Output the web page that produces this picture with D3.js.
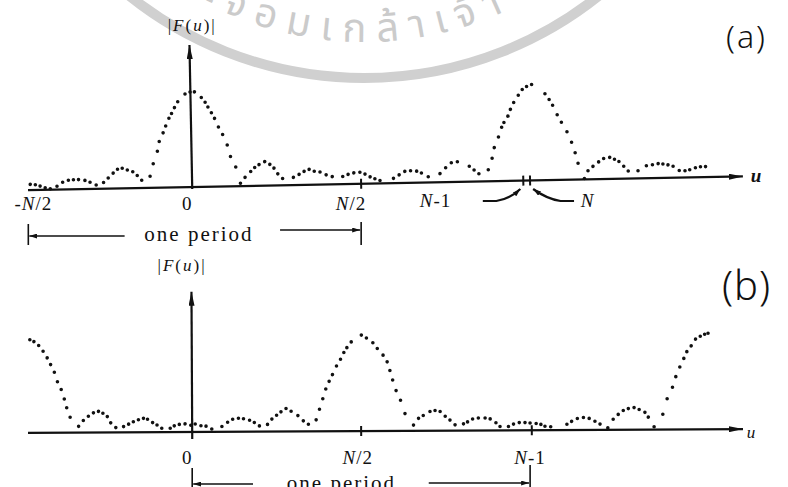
<!DOCTYPE html>
<html>
<head>
<meta charset="utf-8">
<script src="https://cdn.jsdelivr.net/npm/d3@7"></script>
<style>
  body { margin: 0; background: #fff; }
  svg { display: block; }
  text { font-family: "Liberation Serif", serif; fill: #111; }
</style>
</head>
<body>
<div id="chart"></div>
<script>
const width = 788,
      height = 487;

// |F(u)|, u in units of N, magnitude relative to the main lobe
const aU = [-0.479, -0.464, -0.450, -0.435, -0.420, -0.400, -0.383, -0.366, -0.351, -0.336, -0.317, -0.302, -0.284,
  -0.262, -0.248, -0.233, -0.220, -0.206, -0.191, -0.175, -0.162, -0.149,
  -0.124, -0.114, -0.101, -0.095, -0.083, -0.075, -0.065, -0.057, -0.048, -0.038, -0.016, -0.001, 0.012,
  0.032, 0.043, 0.051, 0.061, 0.070, 0.081, 0.093, 0.106, 0.115, 0.130, 0.143,
  0.157, 0.174, 0.186, 0.199, 0.216, 0.231, 0.243, 0.254, 0.268,
  0.300, 0.317, 0.332, 0.347, 0.362, 0.379, 0.397, 0.415,
  0.446, 0.462, 0.479, 0.497, 0.512, 0.527, 0.541, 0.556,
  0.596, 0.613, 0.630, 0.647, 0.665, 0.679, 0.699,
  0.734, 0.751, 0.768, 0.786, 0.821, 0.835, 0.849,
  0.877, 0.889, 0.896, 0.909, 0.919, 0.926, 0.938, 0.946, 0.956, 0.970, 0.982, 0.995, 1.010,
  1.049, 1.061, 1.071, 1.084, 1.096, 1.112, 1.125, 1.135, 1.143, 1.161,
  1.172, 1.187, 1.204, 1.219, 1.237, 1.251, 1.264, 1.278, 1.291,
  1.320, 1.345, 1.363, 1.380, 1.394, 1.409, 1.424, 1.442,
  1.459, 1.473, 1.490, 1.505, 1.520];
const aMag = [0.06, 0.055, 0.04, 0.02, 0.01, 0.035, 0.075, 0.095, 0.10, 0.10, 0.09, 0.07, 0.04,
  0.065, 0.11, 0.16, 0.20, 0.21, 0.19, 0.17, 0.13, 0.08,
  0.12, 0.25, 0.38, 0.48, 0.57, 0.64, 0.72, 0.77, 0.83, 0.89, 0.97, 0.99, 0.99,
  0.93, 0.88, 0.83, 0.77, 0.71, 0.62, 0.54, 0.43, 0.31, 0.20, 0.03,
  0.09, 0.15, 0.19, 0.22, 0.25, 0.22, 0.18, 0.12, 0.07,
  0.08, 0.11, 0.14, 0.16, 0.14, 0.13, 0.10, 0.08,
  0.08, 0.10, 0.115, 0.12, 0.10, 0.07, 0.05, 0.03,
  0.05, 0.085, 0.12, 0.125, 0.12, 0.10, 0.06,
  0.09, 0.15, 0.20, 0.21, 0.16, 0.12, 0.08,
  0.12, 0.24, 0.35, 0.46, 0.56, 0.61, 0.675, 0.745, 0.815, 0.89, 0.95, 0.98, 1.00,
  0.90, 0.84, 0.78, 0.68, 0.60, 0.50, 0.39, 0.28, 0.17, 0.01,
  0.09, 0.135, 0.18, 0.215, 0.225, 0.205, 0.18, 0.13, 0.08,
  0.08, 0.13, 0.14, 0.15, 0.145, 0.135, 0.12, 0.075,
  0.07, 0.08, 0.10, 0.11, 0.11];

const bU = [-0.479, -0.467, -0.453, -0.440, -0.428, -0.418, -0.407, -0.398, -0.387, -0.378, -0.371, -0.361,
  -0.336, -0.322, -0.307, -0.292, -0.277, -0.264, -0.251, -0.241, -0.226,
  -0.203, -0.188, -0.174, -0.159, -0.144, -0.132, -0.117, -0.104, -0.090,
  -0.065, -0.053, -0.038, -0.021, -0.004, 0.009, 0.026, 0.041, 0.058,
  0.088, 0.105, 0.120, 0.137, 0.152, 0.170, 0.184, 0.199,
  0.223, 0.236, 0.250, 0.263, 0.278, 0.293, 0.313, 0.329, 0.344,
  0.367, 0.377, 0.387, 0.396, 0.406, 0.416, 0.428, 0.440, 0.450, 0.459, 0.472, 0.502,
  0.517, 0.536, 0.549, 0.566, 0.578, 0.586, 0.594, 0.604, 0.617, 0.630, 0.655,
  0.670, 0.684, 0.704, 0.719, 0.734, 0.749, 0.763, 0.778,
  0.803, 0.815, 0.830, 0.847, 0.867, 0.882, 0.899, 0.911,
  0.936, 0.951, 0.968, 0.985, 1.000, 1.018, 1.032, 1.044, 1.061,
  1.109, 1.123, 1.140, 1.158, 1.175, 1.192, 1.207, 1.230,
  1.246, 1.261, 1.276, 1.291, 1.308, 1.323, 1.340, 1.350, 1.367,
  1.393, 1.406, 1.422, 1.432, 1.444, 1.456, 1.465, 1.478, 1.491, 1.505, 1.518, 1.528];
const bMag = [0.97, 0.95, 0.91, 0.85, 0.78, 0.71, 0.63, 0.53, 0.45, 0.35, 0.26, 0.16,
  0.065, 0.125, 0.17, 0.205, 0.22, 0.20, 0.165, 0.10, 0.05,
  0.06, 0.085, 0.11, 0.13, 0.145, 0.135, 0.10, 0.075, 0.04,
  0.04, 0.065, 0.08, 0.085, 0.07, 0.083, 0.065, 0.06, 0.03,
  0.055, 0.10, 0.13, 0.14, 0.135, 0.12, 0.095, 0.06,
  0.075, 0.13, 0.17, 0.205, 0.24, 0.21, 0.165, 0.11, 0.075,
  0.12, 0.23, 0.34, 0.44, 0.52, 0.59, 0.68, 0.75, 0.82, 0.87, 0.93, 1.00,
  0.97, 0.92, 0.86, 0.79, 0.72, 0.63, 0.53, 0.42, 0.32, 0.18, 0.06,
  0.13, 0.16, 0.20, 0.21, 0.20, 0.15, 0.11, 0.06,
  0.07, 0.09, 0.12, 0.13, 0.13, 0.12, 0.08, 0.04,
  0.04, 0.065, 0.08, 0.08, 0.075, 0.07, 0.06, 0.04, 0.035,
  0.06, 0.09, 0.12, 0.13, 0.12, 0.09, 0.06, 0.02,
  0.11, 0.16, 0.20, 0.22, 0.23, 0.21, 0.18, 0.13, 0.03,
  0.16, 0.32, 0.44, 0.55, 0.65, 0.74, 0.81, 0.87, 0.94, 0.97, 0.99, 1.00];

const aTicks = [0.5, 0.98, 1.0];
const bTicks = [0.5, 1.005];
const aTickLabels = ["-N/2", "0", "N/2", "N-1", "N"];
const aLabelU = [-0.47, -0.015, 0.47, 0.72, 1.17];
const bTickLabels = ["0", "N/2", "N-1"];
const bLabelU = [-0.015, 0.49, 1.0];

var svg = d3.select('#chart').append('svg')
  .attr('width', width)
  .attr('height', height);

var defs = svg.append('defs');
function marker(id, w, h) {
  defs.append('marker')
    .attr('id', id)
    .attr('viewBox', `0 0 ${w} ${h}`)
    .attr('refX', w).attr('refY', h / 2)
    .attr('markerWidth', w).attr('markerHeight', h)
    .attr('markerUnits', 'userSpaceOnUse')
    .attr('orient', 'auto')
    .append('path')
    .attr('d', `M0,0L${w},${h / 2}L0,${h}Z`)
    .style('fill', '#111');
}
marker('axisHead', 14, 6);
marker('smallHead', 8, 5);

// faint watermark ring of the scanned page
const wm = svg.append('g');
const wcx = 364, wcy = -298;
wm.append('circle')
  .attr('cx', wcx).attr('cy', wcy).attr('r', 376)
  .style('fill', 'none').style('stroke', '#d0d0d0').style('stroke-width', 10);
const tr = 340;
const a1 = 150 * Math.PI / 180, a2 = 30 * Math.PI / 180;
defs.append('path').attr('id', 'wmArc')
  .attr('d', `M${wcx + tr * Math.cos(a1)},${wcy + tr * Math.sin(a1)} A${tr},${tr} 0 0 0 ${wcx + tr * Math.cos(a2)},${wcy + tr * Math.sin(a2)}`);
wm.append('text')
  .style('font-family', '"Noto Sans Thai","DejaVu Sans","Noto Sans",sans-serif')
  .style('font-size', '40px')
  .style('fill', '#cbcbcb')
  .style('letter-spacing', '11px')
  .append('textPath')
  .attr('href', '#wmArc')
  .attr('startOffset', 333)
  .attr('text-anchor', 'middle')
  .text('ระจอมเกล้าเจ้า');

const x = d3.scaleLinear().domain([-0.48, 1.63]).range([30, 743]);
const ya = d3.scaleLinear().domain([0, 1]).range([187, 91]);
const yb = d3.scaleLinear().domain([0, 1]).range([432, 336]);

function label(sel, str, italicLetters) {
  for (const c of str) {
    sel.append('tspan')
      .style('font-style', italicLetters && /[A-Za-z]/.test(c) ? 'italic' : 'normal')
      .text(c);
  }
  return sel;
}

function panel(y, us, mags, ticks, angle, top, below) {
  const g = svg.append('g')
    .attr('transform', `rotate(${angle},${x(0)},${y(0)})`);
  g.append('line')
    .attr('x1', x.range()[0] - 2).attr('x2', x.range()[1])
    .attr('y1', y(0)).attr('y2', y(0))
    .attr('marker-end', 'url(#axisHead)')
    .style('stroke', '#111').style('stroke-width', 2.2);
  g.append('line')
    .attr('x1', x(0)).attr('x2', x(0))
    .attr('y1', y(0) + below).attr('y2', y(top))
    .attr('marker-end', 'url(#axisHead)')
    .style('stroke', '#111').style('stroke-width', 2.2);
  g.selectAll('line.tick').data(ticks)
    .enter().append('line')
    .attr('class', 'tick')
    .attr('x1', d => x(d)).attr('x2', d => x(d))
    .attr('y1', y(0) - 5).attr('y2', y(0) + 5)
    .style('stroke', '#111').style('stroke-width', 2);
  g.selectAll('circle').data(d3.zip(us, mags))
    .enter().append('circle')
    .attr('cx', d => x(d[0]))
    .attr('cy', d => y(d[1]))
    .attr('r', 1.8)
    .style('fill', '#111');
  return g;
}

panel(ya, aU, aMag, aTicks, -1.1, 1.48, 2);
panel(yb, bU, bMag, bTicks, -0.3, 1.46, 7);

// ---- labels, panel (a)
aTickLabels.forEach((t, i) => {
  label(svg.append('text')
    .attr('x', x(aLabelU[i])).attr('y', i < 3 ? 210 : 207)
    .attr('text-anchor', 'middle')
    .style('font-size', '19px')
    .style('letter-spacing', '1px'), t, true);
});
label(svg.append('text').attr('x', x(0)).attr('y', 31).attr('text-anchor', 'middle')
  .style('font-size', '17px').style('letter-spacing', '2px'), '|F(u)|', true);
label(svg.append('text').attr('x', 756).attr('y', 182).attr('text-anchor', 'middle')
  .style('font-size', '19px').style('font-weight', 'bold'), 'u', true);

// callouts to N-1 and N
svg.append('path')
  .attr('d', `M${x(0.86)},201 L${x(0.9)},201 Q${x(0.94)},199 ${x(0.98) - 3},189`)
  .attr('marker-end', 'url(#smallHead)')
  .style('fill', 'none').style('stroke', '#111').style('stroke-width', 2.2);
svg.append('path')
  .attr('d', `M${x(1.13)},201 L${x(1.09)},201 Q${x(1.05)},199 ${x(1.0) + 3},189`)
  .attr('marker-end', 'url(#smallHead)')
  .style('fill', 'none').style('stroke', '#111').style('stroke-width', 2.2);

function period(x0, x1, yl, yr, textX, textY, anchor, barTop, barBot) {
  const p = svg.append('g').style('stroke', '#111').style('stroke-width', 1.6);
  p.append('line').attr('x1', x(x0)).attr('x2', x(x0)).attr('y1', barTop[0]).attr('y2', barBot);
  p.append('line').attr('x1', x(x1)).attr('x2', x(x1)).attr('y1', barTop[1]).attr('y2', barBot);
  p.append('line').attr('x1', x(yl[1])).attr('x2', x(x0) + 1).attr('y1', yl[0]).attr('y2', yl[0])
    .attr('marker-end', 'url(#smallHead)');
  p.append('line').attr('x1', x(yr[1])).attr('x2', x(x1) - 1).attr('y1', yr[0]).attr('y2', yr[0])
    .attr('marker-end', 'url(#smallHead)');
  svg.append('text').attr('x', x(textX)).attr('y', textY).attr('text-anchor', anchor)
    .style('font-size', '21px').style('letter-spacing', '2px').text('one period');
}
period(-0.485, 0.5, [236, -0.2], [230, 0.26], 0.02, 241, 'middle', [224, 222], 245);

label(svg.append('text').attr('x', x(-0.03)).attr('y', 271).attr('text-anchor', 'middle')
  .style('font-size', '17px').style('letter-spacing', '2px'), '|F(u)|', true);

// ---- labels, panel (b)
bTickLabels.forEach((t, i) => {
  label(svg.append('text')
    .attr('x', x(bLabelU[i])).attr('y', 464)
    .attr('text-anchor', 'middle')
    .style('font-size', '19px')
    .style('letter-spacing', '1px'), t, true);
});
label(svg.append('text').attr('x', 751).attr('y', 438).attr('text-anchor', 'middle')
  .style('font-size', '17px'), 'u', true);
period(0, 1.0, [484, 0.18], [483, 0.70], 0.28, 490, 'start', [468, 465], 492);

// handwritten panel tags
svg.append('text').attr('x', 726).attr('y', 48)
  .style('font-family', '"Noto Sans", sans-serif').style('font-weight', 300)
  .style('font-size', '32px').style('letter-spacing', '2px').text('(a)');
svg.append('text').attr('x', 722).attr('y', 300)
  .style('font-family', '"Noto Sans", sans-serif').style('font-weight', 300)
  .style('font-size', '40px').style('letter-spacing', '1px').text('(b)');
</script>
</body>
</html>
